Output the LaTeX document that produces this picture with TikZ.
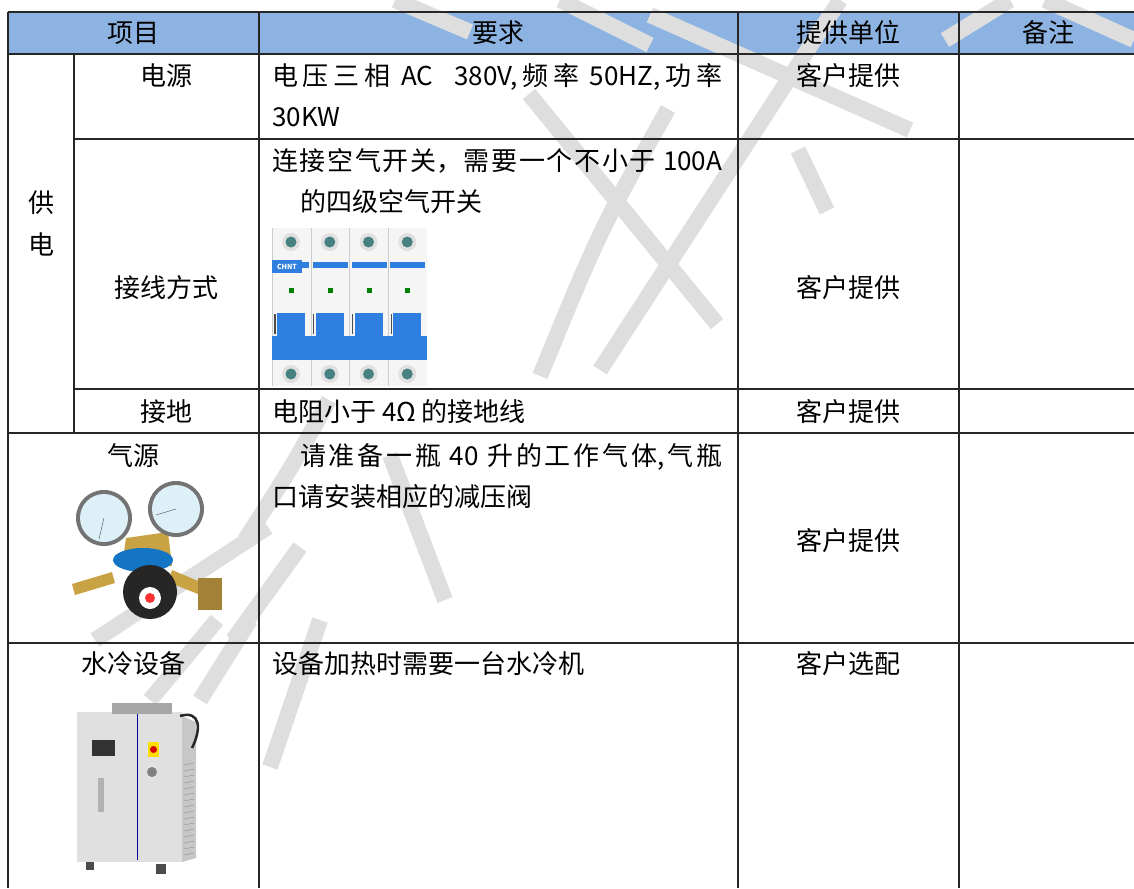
\documentclass[tikz,border=0pt]{standalone}
\usepackage{fontspec}
\setmainfont{Noto Sans CJK SC}
\XeTeXlinebreaklocale "zh"
\XeTeXlinebreakskip=0pt plus 3pt
\usetikzlibrary{positioning}
\definecolor{hdblue}{HTML}{8DB3E2}
\definecolor{brkblue}{HTML}{2F7FE0}
\definecolor{brass}{HTML}{C9A243}
\definecolor{wmgray}{HTML}{DEDEDE}
\definecolor{dialblue}{HTML}{DDEFF7}

\tikzset{
  txt/.style={font=\fontsize{26}{40}\selectfont, inner sep=0pt},
  lcell/.style={txt, anchor=base west},
  ccell/.style={txt, anchor=base},
  rule/.style={line width=1.3pt, draw=black!85},
  wm/.style={draw=wmgray, line width=16pt},
}
\newcommand{\fillrow}[2]{\parbox[b]{#1}{\parfillskip=0pt #2}}

\begin{document}
\begin{tikzpicture}[x=1pt,y=-1pt]
  \useasboundingbox (0,0) rectangle (1134,888);
  \fill[hdblue] (8,12) rectangle (1134,54);

  % watermark
  \draw[wm] (395,0) -- (470,32)
            (560,0) -- (650,45)
            (650,15) -- (910,130)
            (529,94) -- (717,324)
            (840,0) -- (600,370)
            (1010,0) -- (945,40)
            (1045,0) -- (1134,40)
            (798,150) -- (827,211)
            (668,109) .. controls (600,230) .. (540,376)
            (390,455) -- (445,600)
            (329,400) .. controls (290,470) .. (245,540)
            (268,527) -- (95,640)
            (150,700) -- (217,620)
            (200,700) -- (250,620)
            (270,767) -- (320,620)
            (233,640) -- (300,547);

  % breaker
  \begin{scope}[shift={(272,228)}]
    \fill[black!4] (0,0) rectangle (155,158);
    \foreach \i in {0,...,3} {
      \draw[black!20] (\i*38.75,0) -- (\i*38.75,158);
      \fill[black!12] (\i*38.75+19,14) circle (9);
      \fill[teal!45!gray] (\i*38.75+19,14) circle (5.5);
      \fill[black!12] (\i*38.75+19,146) circle (9);
      \fill[teal!45!gray] (\i*38.75+19,146) circle (5.5);
      \fill[brkblue] (\i*38.75+2,34) rectangle (\i*38.75+37,40);
      \fill[green!50!black] (\i*38.75+17,60) rectangle (\i*38.75+22,65);
      \fill[brkblue] (\i*38.75+5,85) rectangle (\i*38.75+33,118);
      \draw[black!70, line width=1.2pt] (\i*38.75+3,86) -- (\i*38.75+3,106);
    }
    \fill[brkblue] (0,108) rectangle (155,132);
    \fill[brkblue] (0,32) rectangle (30,45);
    \node[font=\fontsize{7}{7}\selectfont\bfseries, text=white, inner sep=0pt] (chnt) at (15,38.5) {CHNT};
  \end{scope}

  % regulator
  \fill[brass] (72,584) -- (112,572) -- (115,583) -- (75,595) -- cycle;
  \fill[brass] (172,570) -- (203,583) -- (198,594) -- (168,582) -- cycle;
  \fill[brass!80!black] (198,578) rectangle (222,610);
  \fill[brass] (126,538) -- (168,532) -- (172,566) -- (122,566) -- cycle;
  \fill[black!55] (104,518) circle (28);
  \fill[dialblue] (104,518) circle (24);
  \draw[black!70] (104,518) -- (99,539);
  \fill[black!55] (176,509) circle (28);
  \fill[dialblue] (176,509) circle (24);
  \draw[black!70] (176,509) -- (156,515);
  \fill[cyan!55!blue] (143,560) ellipse (30 and 12);
  \fill[black!85] (150,592) circle (27);
  \fill[white] (150,598) circle (11);
  \fill[red!80] (150,598) circle (5);

  % chiller
  \fill[black!12] (77,712) rectangle (182,862);
  \fill[black!22] (182,716) -- (196,722) -- (196,858) -- (182,862) -- cycle;
  \foreach \y in {765,771,...,855} \draw[black!45] (184,\y) -- (194,\y-2);
  \fill[black!35] (112,703) rectangle (172,714);
  \draw[blue!60!black, line width=1pt] (137,714) -- (137,860);
  \fill[black!80] (92,740) rectangle (115,756);
  \fill[yellow!80!orange] (148,742) rectangle (159,757);
  \fill[red!85!black] (153.5,749.5) circle (3.5);
  \fill[black!50] (152,772) circle (5);
  \fill[black!30] (98,778) rectangle (104,812);
  \draw[black!85, line width=2.5pt] (180,716) .. controls (200,710) and (202,728) .. (192,748);
  \fill[black!70] (86,862) rectangle (94,870);
  \fill[black!70] (156,864) rectangle (166,874);

  % header
  \node[ccell] (xm) at (133,43) {项目};
  \node[ccell] (yq) at (498,43) {要求};
  \node[ccell] (tg) at (848,43) {提供单位};
  \node[ccell] (bz) at (1048,43) {备注};

  % power supply
  \node[ccell] (gong) at (41,212) {供};
  \node[ccell] (dian) at (41,254) {电};
  \node[ccell] (dy) at (166,86) {电源};
  \node[lcell] (dy1) at (272,86) {\fillrow{450pt}{电压三相 AC\ \ 380V,频率 50HZ,功率}};
  \node[lcell] (dy2) at (272,127) {30KW};
  \node[ccell] (dyt) at (848,86) {客户提供};
  \node[ccell] (jx) at (166,297) {接线方式};
  \node[lcell] (jx1) at (272,170) {\fillrow{450pt}{连接空气开关，需要一个不小于 100A}};
  \node[lcell] (jx2) at (300,211) {的四级空气开关};
  \node[ccell] (jxt) at (848,297) {客户提供};
  \node[ccell] (jd) at (166,421) {接地};
  \node[lcell] (jd1) at (272,421) {电阻小于 4Ω 的接地线};
  \node[ccell] (jdt) at (848,421) {客户提供};

  % gas
  \node[ccell] (qy) at (133,465) {气源};
  \node[lcell] (qy1) at (300,465) {\fillrow{422pt}{请准备一瓶 40 升的工作气体,气瓶}};
  \node[lcell] (qy2) at (272,506) {口请安装相应的减压阀};
  \node[ccell] (qyt) at (848,550) {客户提供};

  % water cooling
  \node[ccell] (sl) at (133,673) {水冷设备};
  \node[lcell] (sl1) at (272,673) {设备加热时需要一台水冷机};
  \node[ccell] (slt) at (848,673) {客户选配};

  % grid
  \draw[rule] (8,12) -- (1134,12)
              (8,54) -- (1134,54)
              (74,139) -- (1134,139)
              (74,389) -- (1134,389)
              (8,433) -- (1134,433)
              (8,643) -- (1134,643);
  \draw[rule] (8,12) -- (8,888)
              (74,54) -- (74,433)
              (259,12) -- (259,888)
              (738,12) -- (738,888)
              (959,12) -- (959,888);
\end{tikzpicture}
\end{document}
